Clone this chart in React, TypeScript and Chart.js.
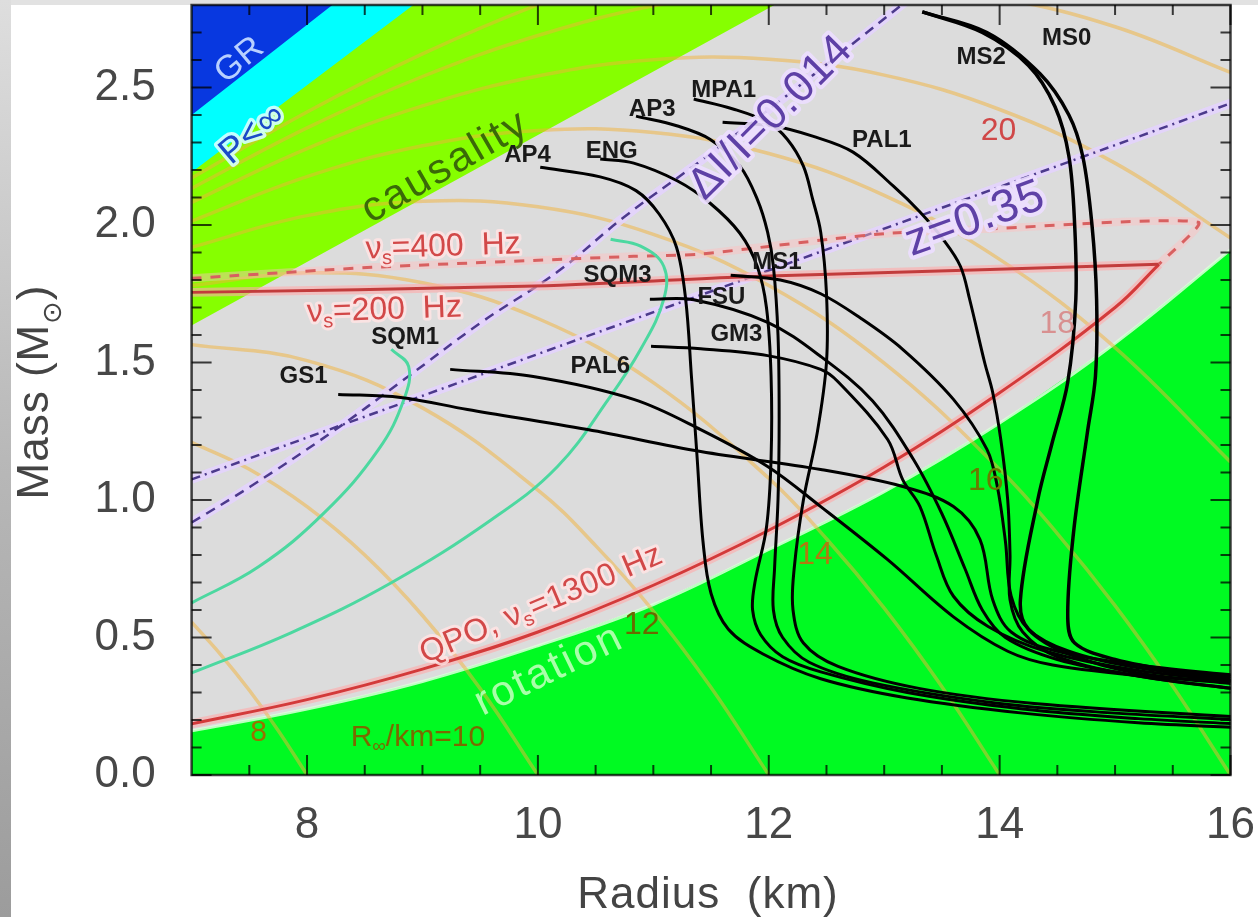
import React, { useEffect, useRef } from "react";
import { Chart, registerables } from "chart.js";

Chart.register(...registerables);

type Pt = [number, number];

const FONT = '"Liberation Sans", "DejaVu Sans", Arial, sans-serif';

// ---- axes ----
const xRange: Pt = [7, 16];
const yRange: Pt = [0, 2.8];
const xTickValues = [8, 10, 12, 14, 16];
const yTickValues = [0, 0.5, 1.0, 1.5, 2.0, 2.5];
const xMinorTicks = [7.5, 8.5, 9, 9.5, 10.5, 11, 11.5, 12.5, 13, 13.5, 14.5, 15, 15.5];
const yMinorTicks = [0.1, 0.2, 0.3, 0.4, 0.6, 0.7, 0.8, 0.9, 1.1, 1.2, 1.3, 1.4, 1.6, 1.7, 1.8, 1.9, 2.1, 2.2, 2.3, 2.4, 2.6, 2.7];

// ---- excluded regions ----
const grEdge: Pt[] = [[6.9, 2.367], [8.35, 2.843]];
const pInfEdge: Pt[] = [[6.9, 2.16], [9.05, 2.841]];
const causalityEdge: Pt[] = [[6.9, 1.612], [12.2, 2.835]];
const rotationEdge: Pt[] = [[6.9, 0.153], [8, 0.24], [9, 0.34], [10, 0.47], [11, 0.62], [12, 0.82], [13, 1.03], [14, 1.28], [15, 1.57], [16, 1.91], [16.2, 1.98]];

// ---- R_inf contours ----
const rInf8: Pt[] = [[7, 0.556], [7.25, 0.439], [7.5, 0.308], [7.75, 0.162], [8, 0]];
const rInf10: Pt[] = [[7, 1.21], [7.5, 1.112], [8, 0.976], [8.5, 0.8], [9, 0.58], [9.5, 0.314], [10, 0]];
const rInf12: Pt[] = [[7, 1.565], [8, 1.507], [9, 1.335], [10, 1.036], [10.5, 0.834], [11, 0.596], [11.5, 0.318], [12, 0]];
const rInf14: Pt[] = [[7, 1.78], [8, 1.826], [9, 1.79], [10, 1.66], [11, 1.427], [12, 1.079], [12.5, 0.859], [13, 0.607], [13.5, 0.321], [14, 0]];
const rInf16: Pt[] = [[7, 1.919], [8, 2.034], [9, 2.086], [10, 2.066], [11, 1.966], [12, 1.78], [13, 1.498], [14, 1.112], [14.5, 0.878], [15, 0.616], [15.5, 0.323], [16, 0]];
const rInf18: Pt[] = [[7, 2.014], [8, 2.176], [9, 2.288], [10, 2.344], [11, 2.336], [12, 2.26], [13, 2.108], [14, 1.875], [15, 1.554], [16, 1.138]];
const rInf20: Pt[] = [[7, 2.082], [8, 2.278], [9, 2.433], [10, 2.542], [11, 2.601], [12, 2.603], [13, 2.545], [14, 2.42], [15, 2.225], [16, 1.953]];
const rInf22: Pt[] = [[7, 2.133], [8, 2.353], [9, 2.54], [10, 2.689], [11, 2.797], [12, 2.858], [13, 2.868], [14, 2.824], [15, 2.721], [16, 2.555]];
const rInf24: Pt[] = [[7, 2.171], [8, 2.411], [9, 2.622], [10, 2.801], [11, 2.945]];

// ---- observational constraints ----
const zLine: Pt[] = [[7, 1.075], [16.05, 2.45]];
const glitchLine: Pt[] = [[7, 0.918], [7.51, 1.049], [8.21, 1.245], [8.84, 1.438], [9.51, 1.646], [10.17, 1.83], [10.75, 2.03], [11.4, 2.23], [12.0, 2.42], [12.7, 2.65], [13.15, 2.8], [13.3, 2.85]];
const qpoLine: Pt[] = [[7, 0.186], [8, 0.274], [9, 0.385], [10, 0.52], [11, 0.69], [12, 0.89], [13, 1.12], [14, 1.39], [15, 1.7], [15.38, 1.857]];
const spin200Line: Pt[] = [[7, 1.755], [9.88, 1.777], [11.7, 1.81], [12.45, 1.82], [15.38, 1.857]];
const spin400Line: Pt[] = [[7, 1.806], [8.56, 1.846], [10.83, 1.886], [11.4, 1.894], [12.56, 1.95], [13.05, 1.97], [13.86, 1.985], [15.72, 2.01], [15.38, 1.857]];

// ---- strange quark matter ----
const sqm1: Pt[] = [[7.0, 0.626], [7.58, 0.757], [8.15, 0.954], [8.62, 1.184], [8.84, 1.366], [8.88, 1.486], [8.73, 1.548]];
const sqm3: Pt[] = [[7.0, 0.371], [7.86, 0.517], [8.73, 0.699], [9.6, 0.929], [10.17, 1.122], [10.61, 1.366], [10.89, 1.548], [11.09, 1.73], [11.09, 1.85], [10.89, 1.923], [10.63, 1.948]];

// ---- normal-matter EOS ----
const ap4: Pt[] = [[10.02, 2.21], [10.54, 2.175], [10.85, 2.125], [11.05, 2.04], [11.2, 1.92], [11.28, 1.73], [11.33, 1.45], [11.38, 1.15], [11.43, 0.85], [11.5, 0.66], [11.65, 0.53], [11.95, 0.44], [12.45, 0.35], [13.2, 0.28], [14.2, 0.225], [15.2, 0.19], [16.1, 0.172]];
const eng: Pt[] = [[10.54, 2.24], [10.83, 2.225], [11.21, 2.16], [11.49, 2.08], [11.75, 1.97], [11.9, 1.85], [11.98, 1.7], [12.02, 1.45], [12.02, 1.15], [11.98, 0.9], [11.88, 0.7], [11.86, 0.6], [11.93, 0.51], [12.12, 0.43], [12.45, 0.375], [13.2, 0.3], [14.2, 0.24], [15.2, 0.205], [16.1, 0.185]];
const ap3: Pt[] = [[10.85, 2.396], [11.21, 2.36], [11.49, 2.312], [11.75, 2.214], [11.9, 2.094], [11.99, 1.974], [12.04, 1.85], [12.08, 1.6], [12.09, 1.3], [12.08, 1.0], [12.05, 0.75], [12.04, 0.6], [12.12, 0.5], [12.35, 0.41], [12.9, 0.335], [14.0, 0.26], [15.0, 0.225], [16.1, 0.2]];
const mpa1: Pt[] = [[11.35, 2.458], [11.69, 2.422], [11.99, 2.374], [12.16, 2.312], [12.3, 2.214], [12.38, 2.094], [12.45, 1.974], [12.5, 1.75], [12.5, 1.5], [12.42, 1.245], [12.3, 1.0], [12.22, 0.75], [12.21, 0.6], [12.3, 0.48], [12.6, 0.395], [13.3, 0.315], [14.3, 0.26], [16.1, 0.21]];
const pal1: Pt[] = [[11.6, 2.374], [12.04, 2.36], [12.38, 2.323], [12.73, 2.265], [13.08, 2.141], [13.31, 2.047], [13.51, 1.948], [13.66, 1.85], [13.74, 1.73], [13.87, 1.5], [13.94, 1.391], [14.01, 1.22], [14.07, 1.0], [14.09, 0.8], [14.09, 0.637], [14.2, 0.52], [14.5, 0.43], [15.2, 0.36], [16.1, 0.31]];
const ms0: Pt[] = [[13.33, 2.775], [13.89, 2.7], [14.35, 2.55], [14.6, 2.4], [14.72, 2.25], [14.8, 2.0], [14.84, 1.73], [14.83, 1.45], [14.76, 1.245], [14.64, 0.881], [14.59, 0.575], [14.65, 0.48], [15.0, 0.42], [15.5, 0.38], [16.1, 0.355]];
const ms2: Pt[] = [[13.33, 2.775], [13.85, 2.7], [14.25, 2.58], [14.48, 2.43], [14.6, 2.25], [14.65, 2.0], [14.66, 1.73], [14.59, 1.428], [14.45, 1.2], [14.33, 1.0], [14.18, 0.637], [14.25, 0.53], [14.6, 0.44], [15.2, 0.37], [16.1, 0.33]];
const ms1: Pt[] = [[11.67, 1.817], [12.1, 1.8], [12.45, 1.75], [12.8, 1.66], [13.16, 1.548], [13.6, 1.366], [13.89, 1.184], [13.98, 1.049], [14.05, 0.85], [14.1, 0.65], [14.25, 0.53], [14.6, 0.45], [15.2, 0.39], [16.1, 0.345]];
const fsu: Pt[] = [[10.97, 1.73], [11.35, 1.728], [11.99, 1.646], [12.45, 1.522], [12.9, 1.36], [13.25, 1.15], [13.5, 0.95], [13.7, 0.75], [13.85, 0.6], [14.05, 0.5], [14.5, 0.42], [15.2, 0.36], [16.1, 0.31]];
const gm3: Pt[] = [[10.98, 1.559], [11.41, 1.55], [11.99, 1.525], [12.45, 1.475], [12.6, 1.43], [13.03, 1.22], [13.16, 1.074], [13.31, 0.976], [13.45, 0.8], [13.6, 0.65], [13.9, 0.54], [14.4, 0.45], [15.2, 0.38], [16.1, 0.34]];
const pal6: Pt[] = [[9.24, 1.475], [9.96, 1.449], [10.83, 1.366], [11.41, 1.256], [11.99, 1.122], [12.45, 0.976], [13.03, 0.783], [13.6, 0.575], [14.07, 0.45], [14.46, 0.4], [15.33, 0.357], [16.1, 0.339]];
const gs1: Pt[] = [[8.27, 1.384], [8.81, 1.373], [9.39, 1.329], [10.43, 1.256], [11.41, 1.176], [12.45, 1.111], [13.16, 1.049], [13.6, 0.976], [13.83, 0.856], [13.94, 0.637], [14.1, 0.52], [14.5, 0.45], [15.2, 0.4], [16.1, 0.36]];

// ---- text annotations: text, R, M, angle(deg), size, color, halo, weight, letter spacing ----
type Ann = [string, number, number, number, number, string, string | null, string, number];
const annotations: Ann[] = [
  ["GR", 7.42, 2.6, -40, 34, "#b8d0ff", null, "normal", 1],
  ["P<∞", 7.53, 2.33, -40, 36, "#1a4ac8", "rgba(215,255,255,0.9)", "normal", 1],
  ["causality", 9.2, 2.21, -30, 42, "#3a6a08", null, "normal", 2.5],
  ["ΔI/I=0.014", 12.02, 2.39, -45, 44, "#5e40a6", "rgba(236,222,255,0.9)", "normal", 1],
  ["z=0.35", 13.79, 2.02, -20, 46, "#5e40a6", "rgba(236,222,255,0.9)", "normal", 1],
  ["ν_s=400  Hz", 9.18, 1.92, -2, 32, "#d24848", "rgba(255,228,228,0.85)", "normal", 0],
  ["ν_s=200  Hz", 8.67, 1.69, -2, 32, "#d24848", "rgba(255,228,228,0.85)", "normal", 0],
  ["QPO, ν_s=1300 Hz", 10.03, 0.62, -23, 32, "#d24848", "rgba(255,228,228,0.85)", "normal", 0.5],
  ["rotation", 10.1, 0.38, -26, 42, "#aaffaa", null, "normal", 2.5],
  ["R_∞/km=10", 8.96, 0.135, 0, 30, "#7a6a00", null, "normal", 0],
  ["8", 7.58, 0.153, 0, 30, "#9a7000", null, "normal", 0],
  ["12", 10.9, 0.546, 0, 32, "#6a6a00", null, "normal", 0],
  ["14", 12.4, 0.8, 0, 32, "#b07a10", null, "normal", 0],
  ["16", 13.88, 1.067, 0, 32, "#6a7a00", null, "normal", 0],
  ["18", 14.5, 1.639, 0, 32, "#d89090", null, "normal", 0],
  ["20", 13.99, 2.342, 0, 32, "#d04848", null, "normal", 0],
  ["MS0", 14.58, 2.68, 0, 24, "#1a1a1a", null, "bold", 0],
  ["MS2", 13.84, 2.611, 0, 24, "#1a1a1a", null, "bold", 0],
  ["MPA1", 11.61, 2.491, 0, 24, "#1a1a1a", null, "bold", 0],
  ["AP3", 10.99, 2.422, 0, 24, "#1a1a1a", null, "bold", 0],
  ["PAL1", 12.98, 2.309, 0, 24, "#1a1a1a", null, "bold", 0],
  ["AP4", 9.91, 2.254, 0, 24, "#1a1a1a", null, "bold", 0],
  ["ENG", 10.64, 2.269, 0, 24, "#1a1a1a", null, "bold", 0],
  ["SQM3", 10.69, 1.817, 0, 24, "#1a1a1a", null, "bold", 0],
  ["MS1", 12.07, 1.864, 0, 24, "#1a1a1a", null, "bold", 0],
  ["FSU", 11.59, 1.737, 0, 24, "#1a1a1a", null, "bold", 0],
  ["GM3", 11.72, 1.602, 0, 24, "#1a1a1a", null, "bold", 0],
  ["SQM1", 8.85, 1.591, 0, 24, "#1a1a1a", null, "bold", 0],
  ["PAL6", 10.54, 1.486, 0, 24, "#1a1a1a", null, "bold", 0],
  ["GS1", 7.97, 1.449, 0, 24, "#1a1a1a", null, "bold", 0],
];

const xTitle = "Radius  (km)";
const yTitle = "Mass (M_⊙)";

function parseRich(text: string) {
  const segs: { t: string; sub: boolean }[] = [];
  for (let i = 0; i < text.length; i++) {
    if (text[i] === "_" && i + 1 < text.length) {
      segs.push({ t: text[i + 1], sub: true });
      i++;
    } else {
      const last = segs[segs.length - 1];
      if (last && !last.sub) last.t += text[i];
      else segs.push({ t: text[i], sub: false });
    }
  }
  return segs;
}

function drawRich(
  ctx: CanvasRenderingContext2D, text: string, x: number, y: number, angleDeg: number,
  size: number, color: string, halo: string | null, weight: string, spacing = 0,
  baseline: CanvasTextBaseline = "middle"
) {
  const segs = parseRich(text);
  const subSize = Math.round(size * 0.62);
  ctx.save();
  ctx.translate(x, y);
  ctx.rotate((angleDeg * Math.PI) / 180);
  ctx.textBaseline = baseline;
  ctx.textAlign = "left";
  (ctx as any).letterSpacing = `${spacing}px`;
  let total = 0;
  const widths = segs.map((s) => {
    ctx.font = `${weight} ${s.sub ? subSize : size}px ${FONT}`;
    const w = ctx.measureText(s.t).width;
    total += w;
    return w;
  });
  const pass = (stroke: boolean) => {
    let cx = -total / 2;
    segs.forEach((s, i) => {
      ctx.font = `${weight} ${s.sub ? subSize : size}px ${FONT}`;
      const dy = s.sub ? size * 0.3 : 0;
      if (stroke) ctx.strokeText(s.t, cx, dy);
      else ctx.fillText(s.t, cx, dy);
      cx += widths[i];
    });
  };
  if (halo) {
    ctx.lineWidth = Math.max(4, size * 0.18);
    ctx.lineJoin = "round";
    ctx.strokeStyle = halo;
    pass(true);
  }
  ctx.fillStyle = color;
  pass(false);
  ctx.restore();
}

const toXY = (pts: Pt[]) => pts.map(([x, y]) => ({ x, y }));

function buildDatasets() {
  const list: any[] = [];
  const line = (pts: Pt[], color: string, width: number, extra: any = {}) =>
    list.push({ data: toXY(pts), borderColor: color, borderWidth: width, pointRadius: 0, fill: false, tension: 0, clip: 0, ...extra });
  const area = (pts: Pt[], color: string, target: string) =>
    list.push({ data: toXY(pts), borderColor: "rgba(0,0,0,0)", borderWidth: 0, backgroundColor: color, pointRadius: 0, fill: target, tension: 0, clip: 0 });

  area(rotationEdge, "#00fa22", "start");
  area(causalityEdge, "#86ff00", "end");
  area(pInfEdge, "#00ffff", "end");
  area(grEdge, "#0838e0", "end");
  line(rotationEdge, "rgba(220,255,220,0.85)", 3, { tension: 0.4 });

  const contour = "rgba(242,178,55,0.5)";
  [rInf8, rInf10, rInf12, rInf14, rInf16, rInf18, rInf20, rInf22, rInf24].forEach((c) => line(c, contour, 3.5, { tension: 0.4 }));

  const lav = "rgba(228,210,255,0.85)";
  line(glitchLine, lav, 9, { tension: 0.4 });
  line(zLine, lav, 9);
  line(glitchLine, "#4c3a8c", 2.5, { tension: 0.4, borderDash: [10, 7] });
  line(zLine, "#4c3a8c", 2.5, { borderDash: [9, 5, 2, 5] });

  const pink = "rgba(255,170,170,0.6)";
  line(qpoLine, pink, 9, { tension: 0.4 });
  line(spin200Line, pink, 9, { tension: 0.3 });
  line(spin400Line, "rgba(255,190,190,0.45)", 8, { tension: 0.2 });
  line(qpoLine, "#d33a3a", 3, { tension: 0.4 });
  line(spin200Line, "#c23c3c", 3, { tension: 0.3 });
  line(spin400Line, "#d86060", 3, { tension: 0.2, borderDash: [10, 9] });

  line(sqm1, "#4cd8a0", 3, { tension: 0.4 });
  line(sqm3, "#4cd8a0", 3, { tension: 0.4 });

  [gs1, pal6, gm3, fsu, ms1, pal1, mpa1, ap3, eng, ap4].forEach((c) => line(c, "#000000", 3, { tension: 0.35 }));
  [ms2, ms0].forEach((c) => line(c, "#000000", 3.5, { tension: 0.35 }));

  const n = list.length;
  list.forEach((d, i) => (d.order = n - i));
  return list;
}

const backgroundPlugin = {
  id: "plotBackground",
  beforeDraw(chart: any) {
    const { ctx, chartArea: a } = chart;
    ctx.save();
    ctx.fillStyle = "#dcdcdc";
    ctx.fillRect(a.left, a.top, a.right - a.left, a.bottom - a.top);
    ctx.restore();
  },
};

const framePlugin = {
  id: "frameAndText",
  afterDatasetsDraw(chart: any) {
    const { ctx, chartArea: a, scales } = chart;
    const xs = scales.x, ys = scales.y;
    ctx.save();
    ctx.strokeStyle = "rgba(0,0,0,0.75)";
    ctx.lineWidth = 2;
    ctx.beginPath();
    const vt = (v: number, len: number) => {
      const px = xs.getPixelForValue(v);
      ctx.moveTo(px, a.bottom); ctx.lineTo(px, a.bottom - len);
      ctx.moveTo(px, a.top); ctx.lineTo(px, a.top + len);
    };
    const ht = (v: number, len: number) => {
      const py = ys.getPixelForValue(v);
      ctx.moveTo(a.left, py); ctx.lineTo(a.left + len, py);
      ctx.moveTo(a.right, py); ctx.lineTo(a.right - len, py);
    };
    xTickValues.forEach((v) => vt(v, 20));
    xMinorTicks.forEach((v) => vt(v, 10));
    yTickValues.forEach((v) => ht(v, 20));
    yMinorTicks.forEach((v) => ht(v, 10));
    ctx.stroke();
    ctx.lineWidth = 2.5;
    ctx.strokeRect(a.left, a.top, a.right - a.left, a.bottom - a.top);
    ctx.restore();

    ctx.save();
    ctx.beginPath();
    ctx.rect(a.left, a.top, a.right - a.left, a.bottom - a.top);
    ctx.clip();
    annotations.forEach(([t, r, m, ang, size, color, halo, weight, sp]) => {
      drawRich(ctx, t, xs.getPixelForValue(r), ys.getPixelForValue(m), ang, size, color, halo, weight, sp);
    });
    ctx.restore();

    drawRich(ctx, xTitle, 708, 908, 0, 44, "#444444", null, "normal", 1, "alphabetic");
    drawRich(ctx, yTitle, 48, 392, -90, 44, "#444444", null, "normal", 1, "alphabetic");
  },
};

export default function App() {
  const ref = useRef<HTMLCanvasElement | null>(null);
  useEffect(() => {
    document.body.style.margin = "0";
    const canvas = ref.current;
    if (!canvas) return;
    const chart = new Chart(canvas, {
      type: "line",
      data: { datasets: buildDatasets() },
      options: {
        animation: false,
        responsive: false,
        devicePixelRatio: 1,
        events: [],
        layout: { padding: { left: 0, top: 5, right: 27.5, bottom: 0 } },
        plugins: { legend: { display: false }, tooltip: { enabled: false } },
        scales: {
          x: {
            type: "linear",
            min: xRange[0],
            max: xRange[1],
            grid: { display: false, drawTicks: false },
            border: { display: false },
            afterBuildTicks: (s: any) => { s.ticks = xTickValues.map((v) => ({ value: v })); },
            afterFit: (s: any) => { s.height = 142; s.paddingLeft = 0; s.paddingRight = 0; },
            ticks: { font: { family: FONT, size: 44 }, color: "#474747", padding: 24, maxRotation: 0, autoSkip: false, callback: (v: any) => String(v) },
          },
          y: {
            type: "linear",
            min: yRange[0],
            max: yRange[1],
            grid: { display: false, drawTicks: false },
            border: { display: false },
            afterBuildTicks: (s: any) => { s.ticks = yTickValues.map((v) => ({ value: v })); },
            afterFit: (s: any) => { s.width = 191.6; s.paddingTop = 0; s.paddingBottom = 0; },
            ticks: { font: { family: FONT, size: 44 }, color: "#474747", padding: 36, autoSkip: false, callback: (v: any) => Number(v).toFixed(1) },
          },
        },
      } as any,
      plugins: [backgroundPlugin, framePlugin],
    });
    return () => chart.destroy();
  }, []);

  return (
    <div style={{ position: "relative", width: 1258, height: 917, background: "#ffffff", overflow: "hidden" }}>
      <div style={{ position: "absolute", left: 0, top: 0, width: 1258, height: 5, background: "#e2e2e2" }} />
      <div style={{ position: "absolute", left: 0, top: 0, width: 11, height: 917, background: "linear-gradient(to bottom, #dedede 0%, #b8b8b8 50%, #9c9c9c 100%)" }} />
      <canvas ref={ref} width={1258} height={917} style={{ position: "absolute", left: 0, top: 0, display: "block" }} />
    </div>
  );
}
